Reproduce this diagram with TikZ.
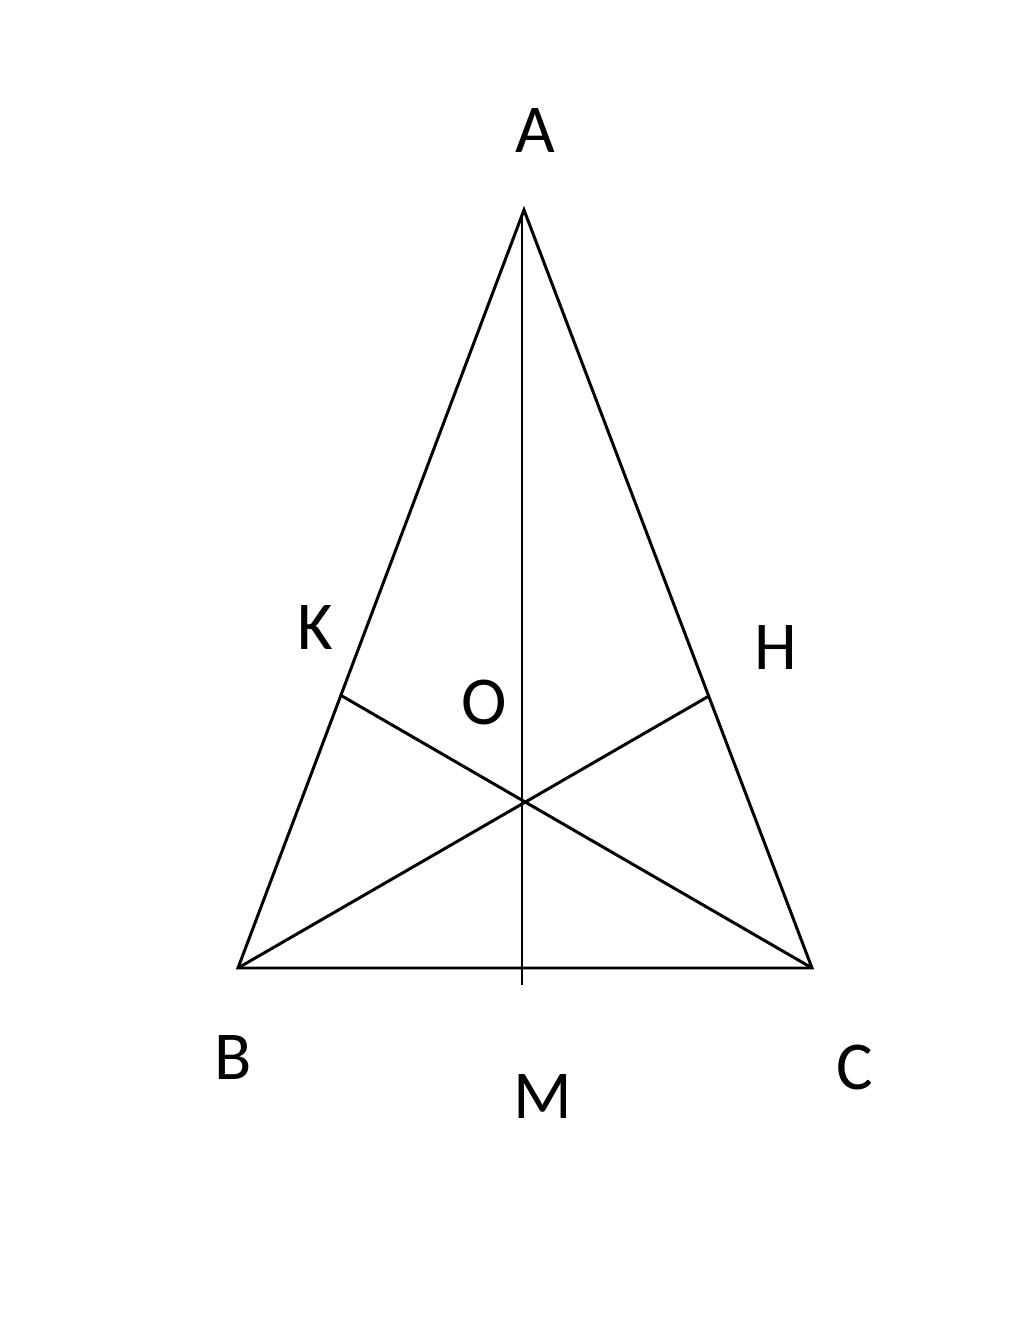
\documentclass[tikz,border=0pt]{standalone}
\usepackage{fontspec}
\setmainfont{Carlito}
\usepackage{tikz}

\begin{document}
\begin{tikzpicture}[line width=0.85pt, every node/.style={font=\fontsize{19.5}{24}\selectfont}]
\useasboundingbox (0,0) rectangle (10.24,13.39);

% Vertices and feet
\coordinate (A) at (5.24,11.29);
\coordinate (B) at (2.38,3.71);
\coordinate (C) at (8.12,3.71);
\coordinate (M) at (5.22,3.71);
\coordinate (Mtop) at (5.22,11.22);
\coordinate (Mend) at (5.22,3.54);
\coordinate (K) at (3.42,6.43);
\coordinate (H) at (7.09,6.43);
\coordinate (O) at (5.22,5.37);

% Triangle
\draw (A) -- (B) -- (C) -- cycle;

% Median and the two cevians
\draw (Mtop) -- (Mend);
\draw (B) -- (H);
\draw (C) -- (K);

% Labels
\node (lA) at (5.35,12.08) {A};
\node (lK) at (3.15,7.11) {K};
\node (lH) at (7.76,6.91) {H};
\node (lO) at (4.84,6.36) {O};
\node (lB) at (2.33,2.81) {B};
\node (lM) at (5.43,2.42) {M};
\node (lC) at (8.55,2.71) {C};
\end{tikzpicture}
\end{document}
